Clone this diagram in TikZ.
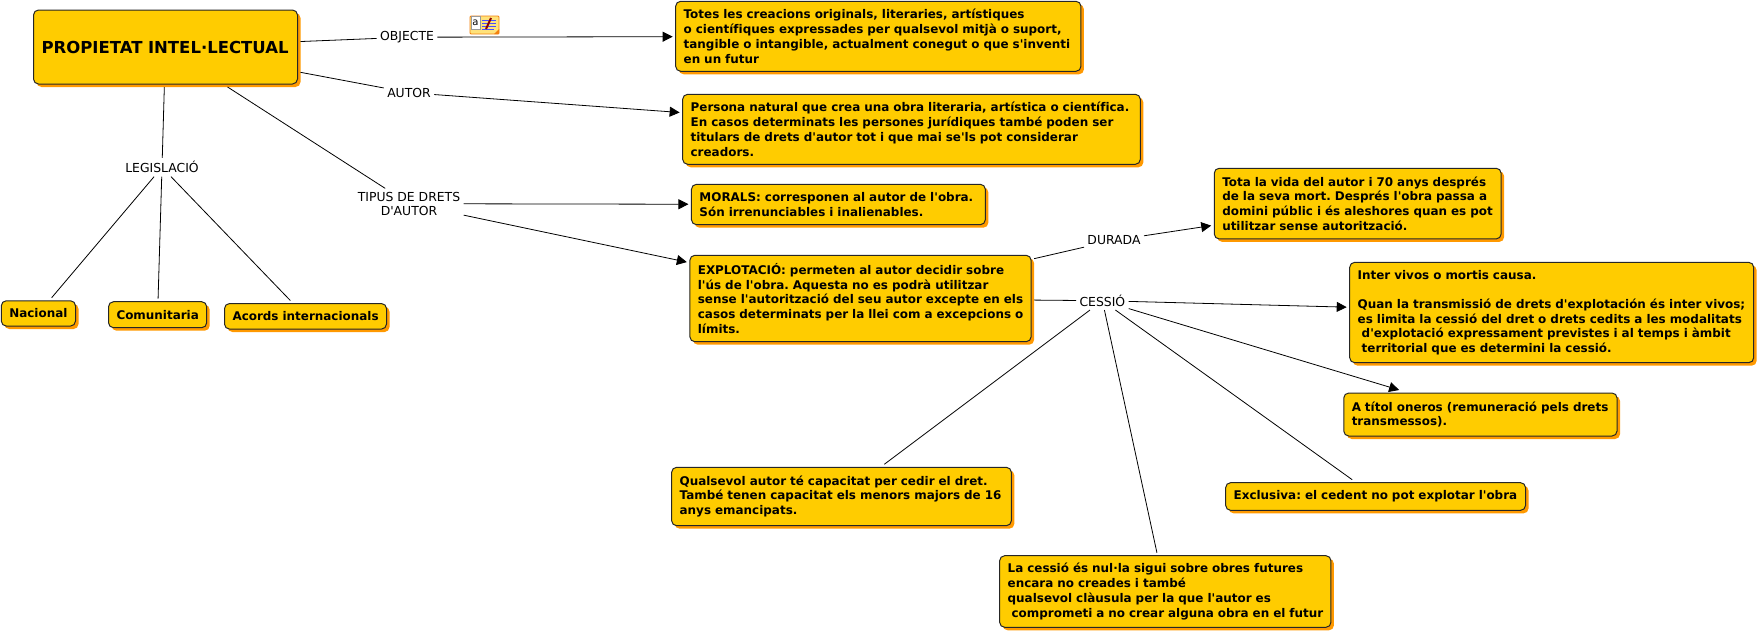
\documentclass[tikz,border=0pt]{standalone}
\usepackage{fontspec}
\setmainfont{DejaVu Sans}[Ligatures={TeXOff,CommonOff}]
\usetikzlibrary{arrows.meta,shadows}
\definecolor{boxfill}{HTML}{FFCC00}
\definecolor{boxshadow}{HTML}{FF9900}
\definecolor{notefill}{HTML}{FFE27A}
\begin{document}
\begin{tikzpicture}[x=1pt,y=-1pt,>={Triangle[length=10pt,width=10pt]},line width=.8pt,
box/.style n args={2}{draw=black!85,line width=1pt,fill=boxfill,rounded corners=5pt,align=left,inner xsep=2.5pt,inner ysep=0pt,outer sep=3pt,text width=#1pt-5pt,minimum width=#1pt,minimum height=#2pt,font=\fontsize{11.95}{14.67}\selectfont\bfseries\frenchspacing,execute at begin node={\leftskip=5.5pt},copy shadow={shadow xshift=3pt,shadow yshift=-3pt,fill=boxshadow,draw=none}},
lab/.style={align=center,inner sep=3.5pt,outer sep=0pt,font=\fontsize{12.4}{14.3}\selectfont}]
\useasboundingbox (0,0) rectangle (1759,633);
% main concept
\node[box={264}{74},align=center,font=\fontsize{16.5}{20}\selectfont\bfseries,execute at begin node={}](main) at (165.5,47){PROPIETAT INTEL·LECTUAL};
% linking phrases
\node[lab](objecte) at (407,37.2){OBJECTE};
\node[lab](autor) at (409,92.7){AUTOR};
\node[lab](legis) at (162,167.3){LEGISLACIÓ};
\node[lab](tipus) at (409,203.7){TIPUS DE DRETS\\D'AUTOR};
\node[lab](durada) at (1114,240.3){DURADA};
\node[lab](cessio) at (1102.4,300.7){CESSIÓ};
% concepts
\node[box={405.3}{70}](objbox) at (878.3,36.3){Totes les creacions originals, literaries, artístiques\\o científiques expressades per qualsevol mitjà o suport,\\tangible o intangible, actualment conegut o que s'inventi\\en un futur};
\node[box={457.7}{70}](autbox) at (911.5,129.3){Persona natural que crea una obra literaria, artística o científica.\\En casos determinats les persones jurídiques també poden ser\\titulars de drets d'autor tot i que mai se'ls pot considerar\\creadors.};
\node[box={74.2}{25.3}](nacional) at (38.4,313.4){Nacional};
\node[box={98.2}{26}](comunit) at (157.6,314.7){Comunitaria};
\node[box={162}{25.5}](acords) at (305.5,316.3){Acords internacionals};
\node[box={293.9}{40.4}](morals) at (838.4,204.5){MORALS: corresponen al autor de l'obra.\\Són irrenunciables i inalienables.};
\node[box={341.3}{86.4}](explot) at (860.5,298.5){EXPLOTACIÓ: permeten al autor decidir sobre\\l'ús de l'obra. Aquesta no es podrà utilitzar\\sense l'autorització del seu autor excepte en els\\casos determinats per la llei com a excepcions o\\límits.};
\node[box={286.9}{70.7}](vida) at (1357.7,203.6){Tota la vida del autor i 70 anys després\\de la seva mort. Després l'obra passa a\\domini públic i és aleshores quan es pot\\utilitzar sense autorització.};
\node[box={404}{100.4}](inter) at (1551.7,312.5){Inter vivos o mortis causa.\\[14.67pt]Quan la transmissió de drets d'explotación és inter vivos;\\es limita la cessió del dret o drets cedits a les modalitats\\\hspace*{4pt}d'explotació expressament previstes i al temps i àmbit\\\hspace*{4pt}territorial que es determini la cessió.};
\node[box={273.3}{43}](titol) at (1480.4,414.5){A títol oneros (remuneració pels drets\\transmessos).};
\node[box={299.9}{27.7}](exclus) at (1375.6,496.5){Exclusiva: el cedent no pot explotar l'obra};
\node[box={339.7}{58.4}](capacit) at (841.5,496.5){Qualsevol autor té capacitat per cedir el dret.\\També tenen capacitat els menors majors de 16\\anys emancipats.};
\node[box={331.3}{71.6}](nulla) at (1165.3,591.5){La cessió és nul·la sigui sobre obres futures\\encara no creades i també\\qualsevol clàusula per la que l'autor es\\\hspace*{4pt}comprometi a no crear alguna obra en el futur};
% note icon
\node[draw=orange!80!brown,fill=notefill,rounded corners=1pt,minimum width=29pt,minimum height=18pt,inner sep=0pt](noteicon) at (484.5,25){};
\node[fill=white,draw=black!40,line width=.4pt,minimum width=9pt,minimum height=13pt,inner sep=0pt,font=\fontsize{10}{10}\selectfont](noteletter) at (475.5,23){a};
\draw[blue!70,line width=.9pt] (482,20)--(496,20) (482,23)--(496,23) (482,26)--(496,26) (482,29)--(494,29);
\draw[red!55!black,line width=2pt] (486,29)--(491,18);
\fill[orange!80!brown] (499,34)--(499,29)--(494,34)--cycle;
% connectors
\draw (main)--(objecte);\draw[->](objecte)--(objbox);
\draw (main)--(autor);\draw[->](autor)--(autbox);
\draw (main)--(legis);\draw (legis)--(nacional);\draw (legis)--(comunit);\draw (legis)--(acords);
\draw (main)--(tipus);\draw[->](tipus)--(morals);\draw[->](tipus)--(explot);
\draw (explot)--(durada);\draw[->](durada)--(vida);
\draw (explot)--(cessio);\draw[->](cessio)--(inter);\draw[->](cessio)--(titol);
\draw (cessio)--(exclus);\draw (cessio)--(capacit);\draw (cessio)--(nulla);
\end{tikzpicture}
\end{document}
